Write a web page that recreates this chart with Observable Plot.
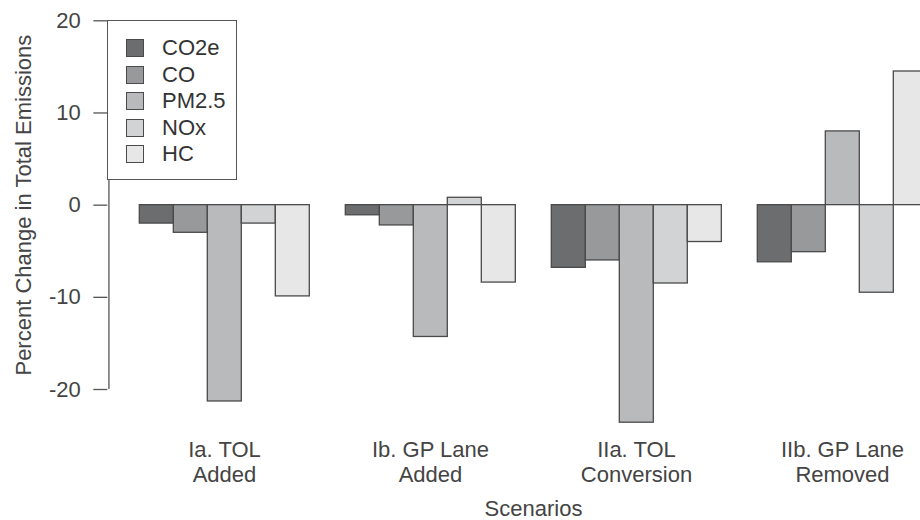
<!DOCTYPE html>
<html>
<head>
<meta charset="utf-8">
<script src="https://cdn.jsdelivr.net/npm/d3@7"></script>
<script src="https://cdn.jsdelivr.net/npm/@observablehq/plot@0.6"></script>
<style>
  html, body { margin: 0; padding: 0; background: #fff; overflow: hidden; }
  #wrap { position: relative; width: 930px; height: 520px; font-family: "Liberation Sans", Arial, sans-serif; }
  #legend { position: absolute; left: 107px; top: 20px; width: 130px; height: 159.5px; border: 1.3px solid #555; background: #fff; box-sizing: border-box; }
  .item { position: absolute; left: 18px; height: 26px; display: flex; align-items: center; font-size: 22px; color: #333; }
  .sw { width: 16px; height: 16px; border: 1.3px solid #4a4a4a; margin-right: 18px; }
</style>
</head>
<body>
<div id="wrap"></div>
<script>
const scenarios = ["Ia. TOL\nAdded", "Ib. GP Lane\nAdded", "IIa. TOL\nConversion", "IIb. GP Lane\nRemoved"];
const series = ["CO2e", "CO", "PM2.5", "NOx", "HC"];
const colors = ["#6c6d6f", "#97999b", "#b9babc", "#d2d3d5", "#e7e7e8"];
const valuesIa  = [-2.0, -3.0, -21.3, -2.0, -9.9];
const valuesIb  = [-1.1, -2.2, -14.3, 0.8, -8.4];
const valuesIIa = [-6.8, -6.0, -23.6, -8.5, -4.0];
const valuesIIb = [-6.2, -5.1, 8.0, -9.5, 14.5];
const yTicks = [-20, -10, 0, 10, 20];

const groups = [valuesIa, valuesIb, valuesIIa, valuesIIb];
const data = [];
groups.forEach((vals, g) => vals.forEach((v, s) => data.push({scenario: scenarios[g], series: series[s], value: v})));

const axisShift = -30.7;   // R-style axis offset to the left of the first group
const halfBar = 34.33 / 2;

const chart = Plot.plot({
  width: 930,
  height: 520,
  marginLeft: 137.7,
  marginRight: 2.6,
  marginTop: 20.3,
  marginBottom: 131,
  style: {fontFamily: "Liberation Sans, Arial, sans-serif", fontSize: "22px", color: "#444", background: "#fff"},
  fx: {domain: scenarios, paddingInner: 1/6, paddingOuter: 0},
  x: {domain: series, padding: 0, axis: null},
  y: {domain: [-20, 20]},
  color: {domain: series, range: colors},
  marks: [
    Plot.barY(data, {fx: "scenario", x: "series", y: "value", fill: "series", stroke: "#4a4a4a", strokeWidth: 1.3}),
    Plot.ruleX([0], {fx: () => scenarios[0], x: () => series[0], y1: yTicks[0], y2: yTicks[yTicks.length - 1],
      dx: axisShift - halfBar, stroke: "#555", strokeWidth: 1.3}),
    Plot.axisY({ticks: yTicks, tickFormat: d => String(d), tickSize: 14, tickPadding: 13, dx: axisShift, fontSize: 22,
      stroke: "#555", strokeWidth: 1.3,
      label: "Percent Change in Total Emissions", labelAnchor: "center", labelArrow: "none", labelOffset: 122.7}),
    Plot.axisFx({anchor: "bottom", tickSize: 0, tickPadding: 50, fontSize: 22, lineHeight: 1.14,
      label: "Scenarios", labelAnchor: "center", labelArrow: "none", labelOffset: 126})
  ]
});

const wrap = document.getElementById("wrap");
wrap.appendChild(chart);

const legend = d3.select(wrap).append("div").attr("id", "legend");
series.forEach((s, i) => {
  const item = legend.append("div").attr("class", "item").style("top", (14 + i * 26.6) + "px");
  item.append("div").attr("class", "sw").style("background", colors[i]);
  item.append("span").text(s);
});
</script>
</body>
</html>
